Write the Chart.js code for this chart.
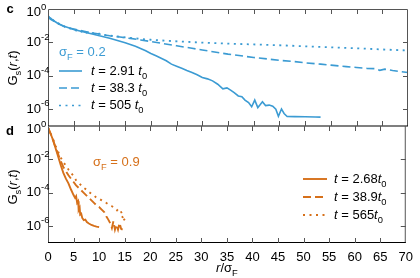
<!DOCTYPE html>
<html><head><meta charset="utf-8">
<script src="https://cdn.jsdelivr.net/npm/chart.js@4.4.1/dist/chart.umd.min.js"></script>
<style>html,body{margin:0;padding:0;background:#fff;width:420px;height:278px;overflow:hidden}
canvas{position:absolute;left:0;top:0}</style></head>
<body>
<canvas id="c1" width="420" height="278"></canvas>
<canvas id="c2" width="420" height="278"></canvas>
<script>
// ---- Panel c (sigma_F = 0.2): r/sigma_F and log10 G_s ----
const rC1 = [0,0.5,1,1.5,2,3,4,5,6,7,8,9,10,11,12,13,14,15,16,17,18,19,20,21,22,23,24,25,26,27,28,29,30,31,32,33,34,34.8,35.5,36.2,37,37.7,38.3,39,39.6,40.2,40.8,41.2,41.7,42.3,43,43.7,44.3,44.8,45.4,45.9,46.5,48,50,52,53];
const logC1 = [-0.45,-0.55,-0.68,-0.78,-0.88,-1.02,-1.12,-1.22,-1.3,-1.38,-1.45,-1.52,-1.6,-1.67,-1.75,-1.84,-1.93,-2.02,-2.12,-2.23,-2.36,-2.5,-2.66,-2.8,-2.95,-3.1,-3.3,-3.42,-3.55,-3.68,-3.8,-3.93,-4.1,-4.18,-4.3,-4.5,-4.78,-4.72,-4.85,-5.0,-5.2,-5.25,-5.45,-5.6,-5.85,-5.45,-5.9,-5.75,-5.55,-5.78,-5.75,-5.82,-6.0,-6.42,-5.98,-6.25,-6.43,-6.44,-6.45,-6.46,-6.47];
const rC2 = [0,0.5,1,1.5,2,2.5,3,3.5,4,5,6,7,8,9,10,11,12,13,14,16,18,20,22,25,28,30,33,35,38,40,43,45,48,50,53,55,58,60,62,63.5,64.5,65.5,67,68.5,70];
const logC2 = [-0.5,-0.62,-0.7,-0.8,-0.88,-0.95,-1.03,-1.08,-1.12,-1.2,-1.27,-1.33,-1.4,-1.45,-1.5,-1.55,-1.6,-1.64,-1.68,-1.76,-1.85,-1.95,-2.05,-2.2,-2.35,-2.45,-2.6,-2.7,-2.82,-2.9,-3.0,-3.07,-3.15,-3.22,-3.3,-3.36,-3.45,-3.5,-3.55,-3.57,-3.67,-3.6,-3.68,-3.74,-3.8];
const rC3 = [0,0.5,1,1.5,2,2.5,3,3.5,4,4.5,5,5.5,6,6.5,7,7.5,8,8.5,9,9.5,10,11,12,13,14,15,16,18,20,23,26,30,35,40,45,50,55,60,65,70];
const logC3 = [-0.4,-0.6,-0.66,-0.82,-0.85,-0.98,-1.0,-1.12,-1.1,-1.22,-1.18,-1.3,-1.25,-1.36,-1.3,-1.42,-1.36,-1.45,-1.42,-1.5,-1.47,-1.55,-1.58,-1.62,-1.66,-1.7,-1.73,-1.79,-1.84,-1.9,-1.95,-2.01,-2.07,-2.12,-2.17,-2.23,-2.29,-2.35,-2.42,-2.48];
const labelsC = ['2.91 ', '38.3 ', '505 '];

// ---- Panel d (sigma_F = 0.9) ----
const rD1 = [0,0.5,1,1.5,2,2.5,3,3.5,4,4.5,5,5.3,5.5,5.7,5.9,6.0,6.2,6.3,6.5,6.7,7.0,7.3,7.6,8,8.5,9,9.5,10];
const logD1 = [-0.1,-0.45,-0.85,-1.35,-1.84,-2.35,-2.8,-3.15,-3.43,-3.8,-4.13,-4.3,-4.2,-4.6,-4.5,-5.03,-4.9,-5.3,-5.25,-5.5,-5.63,-5.6,-5.75,-5.83,-5.92,-5.98,-6.02,-6.05];
const rD2 = [0,0.5,1,1.5,2,2.5,3,3.5,4,4.5,5,5.5,6,6.5,7,7.5,8,8.5,9,9.5,10,10.5,11,11.4,11.8,12.2,12.5,12.8,13.1,13.4,13.7,14,14.3,14.6];
const logD2 = [-0.1,-0.45,-0.85,-1.3,-1.7,-2.1,-2.45,-2.7,-2.95,-3.15,-3.35,-3.55,-3.7,-3.85,-4.0,-4.15,-4.3,-4.45,-4.6,-4.75,-4.85,-5.0,-5.15,-5.4,-5.6,-5.83,-6.1,-5.7,-6.2,-5.9,-6.2,-5.8,-6.15,-6.2];
const rD3 = [0,0.5,1,1.5,2,2.5,3,3.5,4,4.5,5,5.5,6,6.5,7,7.5,8,8.5,9,9.5,10,10.5,11,11.5,12,12.5,13,13.5,13.8,14.1,14.5,14.2,14.6,15.0,15.2,14.9,14.7,15.0,15.2];
const logD3 = [-0.1,-0.45,-0.8,-1.2,-1.55,-1.9,-2.15,-2.38,-2.6,-2.8,-3.0,-3.25,-3.4,-3.55,-3.7,-3.8,-3.95,-4.05,-4.15,-4.3,-4.35,-4.45,-4.55,-4.62,-4.72,-4.8,-4.9,-5.05,-4.95,-5.03,-5.25,-5.35,-5.45,-5.4,-5.5,-5.6,-5.7,-5.75,-5.8];
const labelsD = ['2.68', '38.9', '565'];

const yTickExps = [0, -2, -4, -6];
const xTickStep = 5;

const BLUE = '#3b9bd3';
const ORANGE = '#d6701a';
const FONT = "'Liberation Sans', Arial, Helvetica, sans-serif";
const DASHES = [[], [8, 4], [2, 4.5]];

function pts(r, lg) { return r.map((v, i) => ({ x: v, y: Math.pow(10, lg[i]) })); }

function segFont(s, size) {
  const sz = (s.sub || s.sup) ? size * 0.72 : size;
  return (s.b ? 'bold ' : '') + (s.it ? 'italic ' : '') + sz + 'px ' + FONT;
}
function rich(ctx, x, y, segs, size, color, align) {
  ctx.save(); ctx.fillStyle = color; ctx.textBaseline = 'middle'; ctx.textAlign = 'left';
  let w = 0;
  const ws = segs.map(s => { ctx.font = segFont(s, size); const m = ctx.measureText(s.t).width; w += m; return m; });
  let cx = align === 'center' ? x - w / 2 : align === 'right' ? x - w : x;
  segs.forEach((s, i) => {
    ctx.font = segFont(s, size);
    const dy = s.sub ? size * 0.38 : s.sup ? -size * 0.42 : 0;
    ctx.fillText(s.t, cx, y + dy); cx += ws[i];
  });
  ctx.restore();
}

const decor = {
  id: 'decor',
  afterDraw(chart) {
    const o = chart.options.plugins.decor;
    const ctx = chart.ctx, a = chart.chartArea, xs = chart.scales.x, ys = chart.scales.y;
    ctx.save();
    // frame
    ctx.lineWidth = 1; ctx.strokeStyle = '#555';
    ctx.beginPath();
    ctx.moveTo(a.left + 0.5, a.bottom); ctx.lineTo(a.left + 0.5, a.top + 0.5);
    if (o.top) ctx.lineTo(a.right - 0.5, a.top + 0.5); else ctx.moveTo(a.right - 0.5, a.top);
    ctx.lineTo(a.right - 0.5, a.bottom);
    ctx.stroke();
    ctx.strokeStyle = '#000'; ctx.lineWidth = 1.2;
    ctx.beginPath();
    if (o.top) { ctx.moveTo(a.left, a.bottom); ctx.lineTo(a.right, a.bottom); }
    else { ctx.moveTo(a.left, a.bottom - 0.5); ctx.lineTo(a.right, a.bottom - 0.5); }
    ctx.stroke();
    // inward ticks
    ctx.strokeStyle = '#555'; ctx.lineWidth = 1;
    ctx.beginPath();
    for (let v = xTickStep; v < 70; v += xTickStep) {
      const px = Math.round(xs.getPixelForValue(v)) + 0.5;
      ctx.moveTo(px, a.top); ctx.lineTo(px, a.top + 5);
      ctx.moveTo(px, a.bottom); ctx.lineTo(px, a.bottom - 5);
    }
    yTickExps.forEach(e => {
      if (e === 0) return;
      const py = Math.round(ys.getPixelForValue(Math.pow(10, e))) + 0.5;
      ctx.moveTo(a.left, py); ctx.lineTo(a.left + 5, py);
      ctx.moveTo(a.right, py); ctx.lineTo(a.right - 5, py);
    });
    ctx.stroke();
    // y tick labels
    yTickExps.forEach(e => {
      let py = ys.getPixelForValue(Math.pow(10, e));
      if (e === 0) py += 3.5;
      ctx.font = '13px ' + FONT; ctx.fillStyle = '#000'; ctx.textBaseline = 'middle'; ctx.textAlign = 'right';
      ctx.fillText('10', 41, py);
      ctx.font = '9.5px ' + FONT; ctx.textAlign = 'left';
      ctx.fillText(String(e), 41, py - 5.5);
    });
    // y title
    ctx.save();
    ctx.translate(13, o.titleY); ctx.rotate(-Math.PI / 2);
    rich(ctx, 0, 0, [{ t: 'G' }, { t: 's', sub: 1 }, { t: '(' }, { t: 'r', it: 1 }, { t: ',' }, { t: 't', it: 1 }, { t: ')' }], 13, '#000', 'center');
    ctx.restore();
    // panel letter
    ctx.font = 'bold 13px ' + FONT; ctx.fillStyle = '#000'; ctx.textAlign = 'center'; ctx.textBaseline = 'middle';
    ctx.fillText(o.letter, 10, o.letterY);
    // sigma label
    rich(ctx, o.sigX, o.sigY, [{ t: 'σ' }, { t: 'F', sub: 1 }, { t: ' = ' + o.sig }], 13, o.color, 'left');
    // legend
    o.leg.forEach((L, i) => {
      const y = o.legY[i];
      ctx.save();
      ctx.strokeStyle = o.color; ctx.lineWidth = o.lw; ctx.setLineDash(DASHES[i]);
      ctx.beginPath(); ctx.moveTo(o.legX0, y); ctx.lineTo(o.legX1, y); ctx.stroke();
      ctx.restore();
      rich(ctx, o.legTX, y, [{ t: 't', it: 1 }, { t: ' = ' + L }, { t: 't', it: 1 }, { t: '0', sub: 1 }], 13, '#000', 'left');
    });
    // x title
    if (!o.top) {
      rich(ctx, (a.left + a.right) / 2, 268, [{ t: 'r', it: 1 }, { t: '/σ' }, { t: 'F', sub: 1 }], 13, '#000', 'center');
    }
    ctx.restore();
  }
};

function ds(data, color, i, lw) {
  return { data, borderColor: color, borderWidth: lw, borderDash: DASHES[i], pointRadius: 0, tension: 0, fill: false };
}

new Chart(document.getElementById('c1'), {
  type: 'line',
  data: { datasets: [ds(pts(rC1, logC1), BLUE, 0, 1.6), ds(pts(rC2, logC2), BLUE, 1, 1.6), ds(pts(rC3, logC3), BLUE, 2, 1.8)] },
  options: {
    responsive: false, animation: false, devicePixelRatio: 1,
    layout: { padding: { left: 48, right: 12, top: 9, bottom: 152 } },
    plugins: { legend: { display: false }, tooltip: { enabled: false },
      decor: { top: true, letter: 'c', letterY: 9, titleY: 68, color: BLUE, sig: '0.2', sigX: 59, sigY: 52,
        leg: labelsC, legY: [71, 88, 105.5], legX0: 59, legX1: 82, legTX: 91, lw: 1.6 } },
    scales: {
      x: { type: 'linear', min: 0, max: 70, display: false },
      y: { type: 'logarithmic', min: 1e-7, max: 1, display: false }
    }
  },
  plugins: [decor]
});

new Chart(document.getElementById('c2'), {
  type: 'line',
  data: { datasets: [ds(pts(rD1, logD1), ORANGE, 0, 1.9), ds(pts(rD2, logD2), ORANGE, 1, 1.9), ds(pts(rD3, logD3), ORANGE, 2, 1.9)] },
  options: {
    responsive: false, animation: false, devicePixelRatio: 1,
    layout: { padding: { left: 48, right: 12, top: 126, bottom: 0 } },
    plugins: { legend: { display: false }, tooltip: { enabled: false },
      decor: { top: false, letter: 'd', letterY: 131, titleY: 187, color: ORANGE, sig: '0.9', sigX: 93, sigY: 162,
        leg: labelsD, legY: [179, 197, 215], legX0: 303, legX1: 327, legTX: 334, lw: 1.9 } },
    scales: {
      x: { type: 'linear', min: 0, max: 70,
        afterFit: s => { s.height = 35; },
        grid: { display: false, drawTicks: false },
        border: { display: false },
        ticks: { stepSize: xTickStep, autoSkip: false, maxRotation: 0, padding: 7, color: '#000', font: { family: FONT, size: 13 } } },
      y: { type: 'logarithmic', min: 1e-7, max: 1, display: false }
    }
  },
  plugins: [decor]
});
</script>
</body></html>
